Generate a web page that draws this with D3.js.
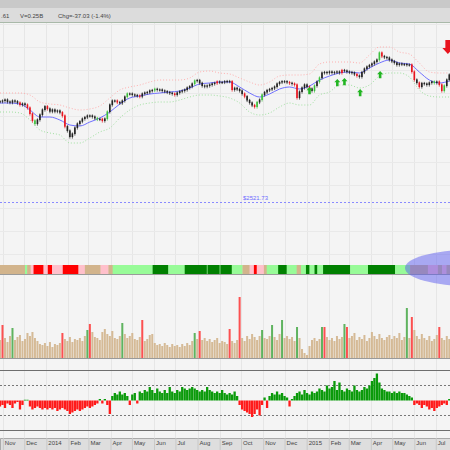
<!DOCTYPE html>
<html><head><meta charset="utf-8">
<script src="https://cdn.jsdelivr.net/npm/d3@7"></script>
<style>body{margin:0;background:#f4f4f4}svg{display:block}text{font-family:"Liberation Sans",Arial,sans-serif}</style>
</head><body><svg id="c" width="450" height="450"></svg>
<script>
// ---------------- DATA ----------------
const sampleStart = "2013-10-28";
const sampleStepHours = 84;
const closes = [2622.3,2623,2624,2622,2621.3,2623,2622.3,2621,2619,2620,
2619,2616,2610,2603,2600,2604,2609,2614,2617.3,2615,
2612.3,2614,2612.3,2613,2611.3,2608,2597.3,2593,2587,2590,
2596,2600,2602.3,2605,2606.5,2608,2608,2607,2605.5,2604.5,
2604.7,2603,2605,2612,2619,2623,2623,2621.5,2620.7,2623,
2627,2630,2630,2629,2628.5,2628,2627.3,2630,2631,2631.5,
2633,2633.5,2634.7,2634,2634,2633,2632.3,2631.5,2630.7,2630,
2629,2631,2632.3,2633,2634,2636,2637.3,2640,2643,2643.5,
2640.7,2638,2637.3,2638,2639,2640,2640.7,2642,2641.5,2641.5,
2642.3,2642.5,2642.3,2634,2635.7,2634.5,2633,2630,2627.3,2623.5,
2621,2618.5,2617,2621.5,2624,2629,2631.5,2633.5,2634.5,2635.5,
2637,2640,2641.5,2642.3,2642.3,2641.5,2640.7,2640,2639,2626,
2632,2636,2639,2637,2635,2633,2638,2642,2646,2651,
2651.5,2651,2652,2651,2651.5,2652,2651,2653.5,2653,2652,
2651.5,2651,2649.5,2648,2647,2651.5,2655,2657,2658.5,2660,
2662,2664,2671,2667.5,2666.5,2666,2664,2662.5,2661,2659,
2660,2659.5,2659.5,2659,2659,2652,2644,2641,2637,2640.5,
2640,2639,2641,2642,2641,2642,2639,2633,2638,2644,
2649];
const candleCodes = ("kkkkkkkkrk"+"krrrgkkkkr"+"kkkkkrrkkk"+"kkkkkkkkkg"+"krkgkkkrkk"+
"kgkkkkrkkk"+"kkgkkkkkkk"+"rkkkkkkkgk"+"kkkkkkkrkk"+"kkkrkkkkrk"+
"kkrgkgkkkk"+"kkkkkkrkrr"+"kkkkrkgkgk"+"kkkkkkkrkk"+"kkkrkkkkkk"+
"kkgrkkkkkk"+"kkkkkrrkrk"+"kkkkgkrrgk"+"k").split("");
const volumes = [180,330,200,160,220,300,180,210,230,170,
190,250,220,260,200,170,140,130,150,120,
160,110,140,130,150,250,190,170,210,160,
190,180,200,170,220,280,340,260,210,200,
180,260,290,240,220,270,200,190,220,350,
240,200,220,250,190,180,210,380,170,190,
230,240,150,130,140,120,150,130,110,140,
120,130,110,140,120,150,130,170,250,190,
270,180,200,170,190,160,180,200,150,170,
160,140,290,170,150,180,610,200,170,220,
190,240,210,180,220,280,200,190,220,330,
210,180,240,380,200,220,190,210,170,310,
200,90,50,30,120,180,200,170,190,310,
310,210,180,200,170,220,190,210,340,310,
200,220,250,180,210,190,230,170,200,260,
220,190,240,200,180,210,230,190,220,200,
250,180,210,500,200,410,280,220,190,240,
200,180,220,170,190,230,310,200,180,220,
190];
const volumeCodes = ("trtttgtttt"+"tttttttttt"+"tttttrtttt"+"tttttgrttt"+"tttttttttg"+
"tttttttrtt"+"tttttttttt"+"ttttttttgt"+"rttttttttt"+"ttrtttrttt"+
"tttttgtttg"+"tttgtttttg"+"tttttttttg"+"rtttttttgr"+"tttttttttt"+
"tttttttttt"+"tttgtrtttt"+"ttttttrttt"+"t").split("");
const oscillator = [-0.4,-0.3,-0.5,-0.2,-0.3,-0.5,-0.2,-0.1,-0.6,-0.3,
0.05,0.05,-0.4,-0.6,-0.5,-0.4,-0.5,-0.6,-0.5,-0.6,
-0.5,-0.6,-0.5,-0.7,-0.6,-0.5,-0.6,-0.7,-0.9,-0.8,
-0.7,-0.6,-0.7,-0.6,-0.5,-0.4,-0.5,-0.4,-0.3,-0.2,
0.1,-0.2,0.1,-0.3,-0.9,0.3,0.5,0.4,0.6,0.4,
0.5,0.3,-0.3,0.4,0.5,-0.2,0.6,0.5,0.7,0.6,
0.9,0.7,0.5,0.8,0.6,0.5,0.7,0.5,0.9,0.6,
0.5,0.7,0.6,0.9,0.8,0.7,0.8,0.9,0.8,0.7,
0.6,0.7,0.6,0.9,0.7,0.6,0.5,0.6,0.5,0.7,
0.5,0.4,0.5,0.4,0.6,0.3,-0.3,-0.6,-0.7,-0.8,
-0.9,-1.1,-0.9,-0.6,-1.0,-0.3,0.2,-0.5,0.3,0.5,
0.4,0.6,0.4,0.5,0.3,0.2,-0.4,0.1,0.3,0.5,
0.6,0.4,0.7,0.5,0.4,0.6,0.5,0.6,0.8,0.7,
0.6,1.0,0.8,0.9,1.3,0.7,1.2,0.7,0.6,0.8,
0.7,0.6,1.0,0.7,0.6,0.7,0.9,0.8,1.0,1.3,
1.5,1.8,1.2,0.8,0.7,0.6,0.6,0.5,0.6,0.5,
0.6,0.5,0.5,0.4,0.3,0.2,-0.3,-0.2,-0.3,-0.5,
-0.3,-0.4,-0.6,-0.5,-0.7,-0.5,-0.4,-0.3,-0.2,-0.3,
0.1];
// overlay lines, sampled every 14 days
const lineStart = "2013-10-28";
const lineStepDays = 14;
const maLine = [2621,2621,2620,2614,2607,2607,2604,2599,2598,2602,2606,2612,2620,2626,2628,2630,2631,2632,2633,2636,2640,2641,2642,2642,2637,2631,2627,2630,2635,2637,2635,2638,2644,2648,2651,2652,2651,2656,2661,2664,2661,2660,2652,2644,2641,2643];
const upperBand = [2631,2631,2631,2629,2622,2620,2619,2616,2614,2615,2618,2626,2634,2637,2639,2642,2644,2644,2644,2646,2652,2653,2651,2650,2646,2642,2639,2642,2648,2649,2649,2650,2660,2662,2662,2662,2661,2669,2677,2677,2672,2670,2661,2652,2651,2651];
const lowerBand = [2612,2612,2611,2604,2594,2591,2589,2581,2581,2586,2592,2596,2606,2614,2619,2621,2622,2622,2624,2627,2629,2629,2628,2626,2621,2612,2609,2611,2617,2621,2619,2619,2629,2632,2639,2639,2636,2639,2648,2651,2651,2647,2634,2628,2627,2627];
const bandStart = ["2013-10-28","2013-12-02","2013-12-05","2013-12-10","2013-12-14","2013-12-28","2014-01-03","2014-01-09","2014-01-24","2014-02-15","2014-02-24","2014-03-18","2014-03-29","2014-04-04","2014-05-30","2014-06-21","2014-07-14","2014-08-14","2014-08-15","2014-09-01","2014-09-02","2014-09-18","2014-10-03","2014-10-13","2014-10-19","2014-10-23","2014-11-02","2014-11-06","2014-11-22","2014-12-04","2014-12-18","2014-12-24","2014-12-31","2015-01-05","2015-01-12","2015-01-16","2015-01-24","2015-03-03","2015-03-28","2015-05-05","2015-05-26","2015-06-20","2015-07-04","2015-07-10","2015-07-16"];
const bandCodes = ["t","l","t","p","r","p","r","p","r","p","t","p","t","l","g","l","g","l","g","l","g","l","t","p","r","p","t","l","g","l","t","l","g","l","g","l","g","l","g","l","t","p","t","p","t"];
const upArrowDates = ["2015-01-05","2015-02-13","2015-02-23","2015-03-17","2015-04-14"];
const upArrowPrices = [2637,2645,2646,2635,2653];
const downArrowDates = ["2015-07-18"];
const downArrowPrices = [2670];
const refLevel = 2521.73;
const headerTexts = [".61","V=0.25B","Chg=-37.03 (-1.4%)"];
const endDate = "2015-07-21";

// ---------------- DRAW ----------------
const parse = d3.timeParse("%Y-%m-%d");
const svg = d3.select("#c");
const W = 450;
const x = d3.scaleTime().domain([parse(sampleStart), parse(endDate)]).range([0, W]);
const dates = closes.map((_, i) => d3.timeHour.offset(parse(sampleStart), i * sampleStepHours));
const lineDates = maLine.map((_, i) => d3.timeDay.offset(parse(lineStart), i * lineStepDays));
const y = d3.scaleLinear().domain([2462, 2702]).range([262, 22]);
const yVol = d3.scaleLinear().domain([0, 800]).range([358, 278]);
const yOsc = d3.scaleLinear().domain([-2, 2]).range([430.5, 370.5]);

svg.append("rect").attr("width", W).attr("height", 450).attr("fill", "#f4f4f4");

// vertical month grid
const months = d3.timeMonth.range(parse(sampleStart), parse(endDate));
const gridG = svg.append("g");
gridG.selectAll("line").data(months).join("line")
  .attr("x1", d => Math.round(x(d)) + 0.5).attr("x2", d => Math.round(x(d)) + 0.5)
  .attr("y1", 23).attr("y2", 450).attr("stroke", "#e6e6e6");
// horizontal grid in price panel
gridG.selectAll("line.h").data(d3.range(2470, 2702, 23)).join("line").attr("class","h")
  .attr("x1", 0).attr("x2", W).attr("y1", d => Math.round(y(d)) + 0.5).attr("y2", d => Math.round(y(d)) + 0.5)
  .attr("stroke", "#e9e9e9");

// header
svg.append("rect").attr("width", W).attr("height", 8).attr("fill", "#c9c9c9");
svg.append("rect").attr("y", 8).attr("width", W).attr("height", 14).attr("fill", "#dcdcdc");
svg.append("line").attr("x1", 0).attr("x2", W).attr("y1", 22.5).attr("y2", 22.5).attr("stroke", "#a9b9a9");
const hx = [1, 20, 58];
svg.selectAll("text.hd").data(headerTexts).join("text").attr("class","hd")
  .attr("x", (d, i) => hx[i]).attr("y", 18).attr("font-size", 6).attr("fill", "#444").text(d => d);

// reference level
svg.append("line").attr("x1", 0).attr("x2", W).attr("y1", Math.round(y(refLevel)) + 0.5).attr("y2", Math.round(y(refLevel)) + 0.5)
  .attr("stroke", "#8a8aff").attr("stroke-dasharray", "2,2");
svg.append("text").attr("x", 243).attr("y", y(refLevel) - 2).attr("font-size", 6).attr("fill", "#6b6bff")
  .text("$" + refLevel.toFixed(2));

// bands
const lineGen = d3.line().x((d, i) => x(lineDates[i])).y(d => y(d)).curve(d3.curveMonotoneX);
svg.append("path").attr("d", lineGen(upperBand)).attr("fill", "none").attr("stroke", "#ffb0b0").attr("stroke-dasharray", "1,2");
svg.append("path").attr("d", lineGen(lowerBand)).attr("fill", "none").attr("stroke", "#a0e0a0").attr("stroke-dasharray", "1,2");
svg.append("path").attr("d", lineGen(maLine)).attr("fill", "none").attr("stroke", "#7070ff").attr("stroke-width", 1);

// candles
const cCol = {k: "#222", r: "#e8141e", g: "#3cc03c"};
const cg = svg.append("g");
closes.forEach((c, i) => {
  const o = i ? closes[i - 1] : c;
  const top = y(Math.max(o, c)), bot = y(Math.min(o, c));
  const cx = x(dates[i]);
  cg.append("line").attr("x1", cx).attr("x2", cx).attr("y1", top - 1.6).attr("y2", bot + 1.6)
    .attr("stroke", cCol[candleCodes[i]]).attr("stroke-width", 0.7);
  cg.append("rect").attr("x", cx - 0.8).attr("width", 1.6).attr("y", top - 0.6).attr("height", Math.max(1.3, bot - top + 0.6))
    .attr("fill", cCol[candleCodes[i]]);
});

// arrows
function upArrow(g, cx, ty, col) {
  g.append("path").attr("d", `M${cx},${ty} l3,3.2 h-1.7 v4 h-2.6 v-4 h-1.7 z`).attr("fill", col);
}
upArrowDates.forEach((d, i) => upArrow(svg, x(parse(d)), y(upArrowPrices[i]), "#22b522"));
downArrowDates.forEach((d, i) => {
  const cx = x(parse(d)), by = y(downArrowPrices[i]);
  svg.append("path").attr("d", `M${cx},${by} l-5.5,-6 h3 v-8 h5 v8 h3 z`).attr("fill", "#e8141e");
});

// colour strip
const bCol = {t: "#d2b48c", l: "#98fb98", g: "#008000", r: "#ff0000", p: "#ffc0cb"};
const bandEnds = bandStart.slice(1).map(parse).concat([parse(endDate)]);
svg.selectAll("rect.band").data(bandStart).join("rect").attr("class","band")
  .attr("x", d => x(parse(d))).attr("width", (d, i) => x(bandEnds[i]) - x(parse(d)) + 0.3)
  .attr("y", 265).attr("height", 9).attr("fill", (d, i) => bCol[bandCodes[i]]);
svg.append("line").attr("x1", 0).attr("x2", W).attr("y1", 274.5).attr("y2", 274.5).attr("stroke", "#9a9a9a");

// volume
const vCol = {t: "#d2b48c", r: "#ff1a1a", g: "#2e9e2e"};
svg.selectAll("rect.vol").data(volumes).join("rect").attr("class","vol")
  .attr("x", (d, i) => x(dates[i]) - 1).attr("width", 2)
  .attr("y", d => yVol(d)).attr("height", d => yVol(0) - yVol(d))
  .attr("fill", (d, i) => vCol[volumeCodes[i]]).attr("opacity", (d, i) => volumeCodes[i] === "t" ? 0.9 : 0.75);
svg.append("line").attr("x1", 0).attr("x2", W).attr("y1", 358.5).attr("y2", 358.5).attr("stroke", "#9a9a9a");

// oscillator
[-2, 2].forEach(v => svg.append("line").attr("x1", 0).attr("x2", W).attr("y1", yOsc(v)).attr("y2", yOsc(v)).attr("stroke", "#6e6e6e"));
[-1, 1].forEach(v => svg.append("line").attr("x1", 0).attr("x2", W).attr("y1", yOsc(v)).attr("y2", yOsc(v)).attr("stroke", "#777").attr("stroke-dasharray", "2,2"));
svg.selectAll("rect.osc").data(oscillator).join("rect").attr("class","osc")
  .attr("x", (d, i) => x(dates[i]) - 1.15).attr("width", 2.3)
  .attr("y", d => yOsc(Math.max(0, d))).attr("height", d => Math.abs(yOsc(d) - yOsc(0)))
  .attr("fill", d => d >= 0 ? "#0a9a0a" : "#ff1a1a");

// axis
svg.append("rect").attr("y", 438).attr("width", W).attr("height", 12).attr("fill", "#dedede");
const axis = d3.axisBottom(x).ticks(d3.timeMonth.every(1))
  .tickFormat(d => d.getMonth() === 0 ? d3.timeFormat("%Y")(d) : d3.timeFormat("%b")(d)).tickSize(12).tickPadding(0);
const ag = svg.append("g").attr("transform", "translate(0,438)").call(axis);
ag.select(".domain").attr("stroke", "#aaa");
ag.selectAll(".tick line").attr("stroke", "#c8c8c8");
ag.selectAll(".tick text").attr("font-size", 6).attr("fill", "#444").attr("text-anchor", "start")
  .attr("x", 1.5).attr("y", 3).attr("dy", "0.71em");

// highlight ellipse
svg.append("ellipse").attr("cx", x(parse(endDate)) + 20).attr("cy", 268).attr("rx", 65).attr("ry", 18)
  .attr("fill", "#5c5cf0").attr("opacity", 0.5);
</script></body></html>
